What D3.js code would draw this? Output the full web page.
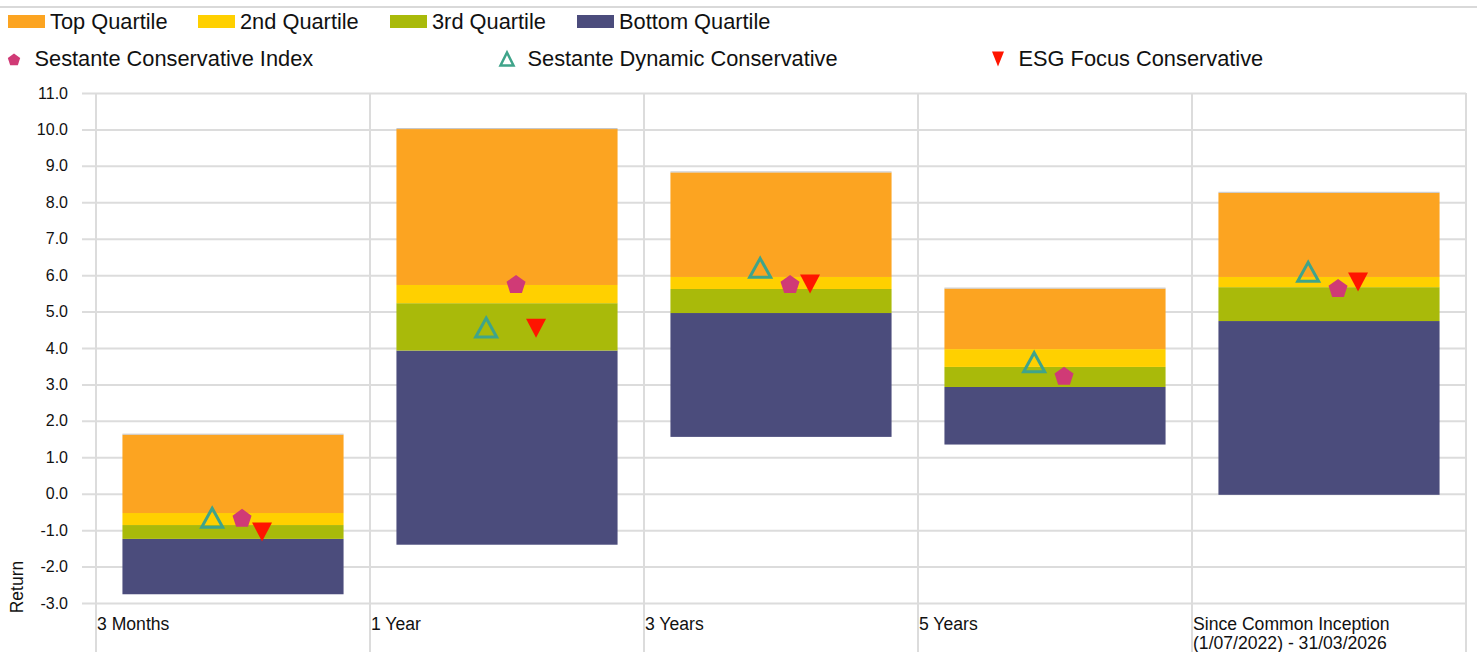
<!DOCTYPE html>
<html><head><meta charset="utf-8">
<script src="https://cdn.jsdelivr.net/npm/d3@7"></script>
<style>body{margin:0;background:#fff;} svg{display:block;font-family:"Liberation Sans",Arial,sans-serif;}</style>
</head><body><svg id="c" width="1477" height="652"></svg>
<script>
const categories = ["3 Months","1 Year","3 Years","5 Years","Since Common Inception"];
const categoryLines = [["3 Months"],["1 Year"],["3 Years"],["5 Years"],["Since Common Inception","(1/07/2022) - 31/03/2026"]];
const upperBound    = [1.62, 10.01, 8.82, 5.63, 8.26];
const upperQuartile = [-0.53, 5.73, 5.95, 3.97, 5.95];
const median        = [-0.86, 5.23, 5.62, 3.48, 5.67];
const lowerQuartile = [-1.24, 3.93, 4.96, 2.93, 4.74];
const lowerBound    = [-2.76, -1.40, 1.56, 1.35, -0.03];
const indexReturns   = [-0.66, 5.76, 5.76, 3.24, 5.65];
const dynamicReturns = [-0.66, 4.56, 6.20, 3.61, 6.09];
const esgReturns     = [-1.05, 4.54, 5.76, null, 5.81];
const yTicks = [-3,-2,-1,0,1,2,3,4,5,6,7,8,9,10,11];
const quartileNames = ["Top Quartile","2nd Quartile","3rd Quartile","Bottom Quartile"];
const markerNames = ["Sestante Conservative Index","Sestante Dynamic Conservative","ESG Focus Conservative"];

const C = {top:"#fca421", second:"#ffd000", third:"#a9ba0a", bottom:"#4b4c7c",
           index:"#d03a76", dyn:"#3fa48a", esg:"#ff1500", grid:"#dcdcdc"};

const svg = d3.select("#c");
const x = d3.scaleBand().domain(categories).range([96,1466]).paddingInner(0.193).paddingOuter(0.0965);
const y = d3.scaleLinear().domain([-3,11]).range([603,93]);
const step = x.step();

// top line
svg.append("line").attr("x1",0).attr("x2",1477).attr("y1",7).attr("y2",7)
  .attr("stroke","#d9d9d9").attr("stroke-width",2);

// y axis with gridlines
const yAxis = d3.axisLeft(y).tickValues(yTicks).tickFormat(d => d.toFixed(1))
  .tickSizeInner(-(1466-82)).tickSizeOuter(0).tickPadding(14);
const ga = svg.append("g").attr("transform","translate(82,0)").call(yAxis);
ga.select(".domain").remove();
ga.selectAll(".tick line").attr("stroke",C.grid).attr("stroke-width",2);
ga.selectAll(".tick text").attr("fill","#111").style("font-size","16px").style("font-family","'Liberation Sans',Arial,sans-serif");

// vertical gridlines at band boundaries
const bounds = categories.map(c => x(c) - x.paddingOuter()*step).concat([x.range()[1]]);
svg.append("g").selectAll("line").data(bounds).join("line")
  .attr("x1",d=>d).attr("x2",d=>d).attr("y1",y(11)).attr("y2",652)
  .attr("stroke",C.grid).attr("stroke-width",2);

// stacked quartile bars
const rows = categories.map((c,i)=>({c, lb:lowerBound[i], lq:lowerQuartile[i], md:median[i], uq:upperQuartile[i], ub:upperBound[i]}));
const segs = [["lb","lq",C.bottom],["lq","md",C.third],["md","uq",C.second],["uq","ub",C.top]];
const gb = svg.append("g");
segs.forEach(([a,b,col])=>{
  gb.selectAll(null).data(rows).join("rect")
    .attr("x",d=>x(d.c)).attr("width",x.bandwidth())
    .attr("y",d=>y(d[b])).attr("height",d=>y(d[a])-y(d[b]))
    .attr("fill",col);
});
gb.selectAll(null).data(rows).join("line")
  .attr("x1",d=>x(d.c)).attr("x2",d=>x(d.c)+x.bandwidth())
  .attr("y1",d=>y(d.ub)-0.5).attr("y2",d=>y(d.ub)-0.5)
  .attr("stroke","#c4c4c4").attr("stroke-width",1);

// marker shapes
function pentagon(r){
  const pts = d3.range(5).map(k=>{const a=-Math.PI/2+k*2*Math.PI/5; return [r*Math.cos(a), r*Math.sin(a)];});
  return "M"+pts.map(p=>p.join(",")).join("L")+"Z";
}
function triUp(w,h){return `M0,${-h/2}L${w/2},${h/2}L${-w/2},${h/2}Z`;}
function triDown(w,h){return `M${-w/2},${-h/2}L${w/2},${-h/2}L0,${h/2}Z`;}

const cx = c => x(c) + x.bandwidth()/2;
const gm = svg.append("g");
// dynamic (open triangle)
gm.selectAll(null).data(categories.map((c,i)=>({c,v:dynamicReturns[i]})).filter(d=>d.v!=null)).join("path")
  .attr("d",triUp(21,19)).attr("transform",d=>`translate(${cx(d.c)-0.076*step},${y(d.v)})`)
  .attr("fill","none").attr("stroke",C.dyn).attr("stroke-width",3).attr("stroke-linejoin","miter");
// index (pentagon)
gm.selectAll(null).data(categories.map((c,i)=>({c,v:indexReturns[i]})).filter(d=>d.v!=null)).join("path")
  .attr("d",pentagon(10)).attr("transform",d=>`translate(${cx(d.c)+0.033*step},${y(d.v)+1})`)
  .attr("fill",C.index);
// esg (filled down triangle)
gm.selectAll(null).data(categories.map((c,i)=>({c,v:esgReturns[i]})).filter(d=>d.v!=null)).join("path")
  .attr("d",triDown(20,19)).attr("transform",d=>`translate(${cx(d.c)+0.106*step},${y(d.v)})`)
  .attr("fill",C.esg);

// x labels
const gx = svg.append("g");
categories.forEach((c,i)=>{
  const lx = x(c)-x.paddingOuter()*step+1;
  const t = gx.append("text").attr("x",lx).attr("y",629.5)
    .style("font-size","17.6px").attr("fill","#111");
  categoryLines[i].forEach((ln,j)=>t.append("tspan").attr("x",lx).attr("dy",j?19.5:0).text(ln));
});

// y title
svg.append("text").attr("transform","translate(23,587) rotate(-90)").attr("text-anchor","middle")
  .style("font-size","17.5px").attr("fill","#111").text("Return");

// legend row 1
const qCols = [C.top,C.second,C.third,C.bottom];
const lx1 = [8,198,390,577];
const lg = svg.append("g").style("font-size","21.8px").attr("fill","#111");
quartileNames.forEach((n,i)=>{
  lg.append("rect").attr("x",lx1[i]).attr("y",15).attr("width",37).attr("height",13).attr("fill",qCols[i]);
  lg.append("text").attr("x",lx1[i]+42).attr("y",28.5).text(n);
});
// legend row 2
const lx2 = [14,507,998];
lg.append("path").attr("d",pentagon(6.5)).attr("transform",`translate(${lx2[0]},60)`).attr("fill",C.index);
lg.append("path").attr("d",triUp(13,13)).attr("transform",`translate(${lx2[1]},59)`).attr("fill","none").attr("stroke",C.dyn).attr("stroke-width",2.5);
lg.append("path").attr("d",triDown(12,15)).attr("transform",`translate(${lx2[2]},59)`).attr("fill",C.esg);
markerNames.forEach((n,i)=>{
  lg.append("text").attr("x",lx2[i]+20.5).attr("y",65.5).text(n);
});
</script></body></html>
